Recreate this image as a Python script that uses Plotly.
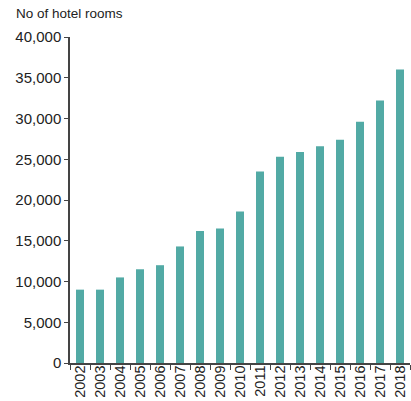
import plotly.graph_objects as go

years = [str(y) for y in range(2002, 2019)]
rooms = [9000, 9000, 10500, 11500, 12000, 14300, 16200, 16500, 18600,
         23500, 25300, 25900, 26600, 27400, 29600, 32200, 36000]
yticks = [0, 5000, 10000, 15000, 20000, 25000, 30000, 35000, 40000]

fig = go.Figure(go.Bar(x=years, y=rooms, marker_color="#52aaa5", marker_line_width=0))
fig.update_layout(
    width=411, height=401,
    margin=dict(l=70, r=1, t=37, b=38, autoexpand=False),
    plot_bgcolor="white", paper_bgcolor="white",
    bargap=0.6,
    font=dict(family="Liberation Sans, Arial, sans-serif", size=15, color="#222"),
    showlegend=False,
    annotations=[dict(text="No of hotel rooms", xref="paper", yref="paper",
                      x=0, y=1.0, xshift=-56, yshift=14, xanchor="left", yanchor="bottom",
                      showarrow=False, font=dict(size=13.5, color="#222"))],
)
fig.update_xaxes(type="category", tickangle=-90, showline=True, linecolor="#444",
                 linewidth=1.5, ticks="outside", tickson="boundaries", ticklen=5,
                 tickcolor="#444", showgrid=False, automargin=False,
                 tickfont=dict(size=14.5), ticklabelstandoff=-5)
fig.update_yaxes(range=[0, 40000], tickvals=yticks, tickformat=",", showline=True,
                 linecolor="#444", linewidth=1.5, ticks="outside", ticklen=4,
                 tickcolor="#444", showgrid=False, zeroline=False, automargin=False)
fig.write_html("out.html", config={"displayModeBar": False},
               post_script="document.body.style.margin='0';document.body.style.overflow='hidden';")
